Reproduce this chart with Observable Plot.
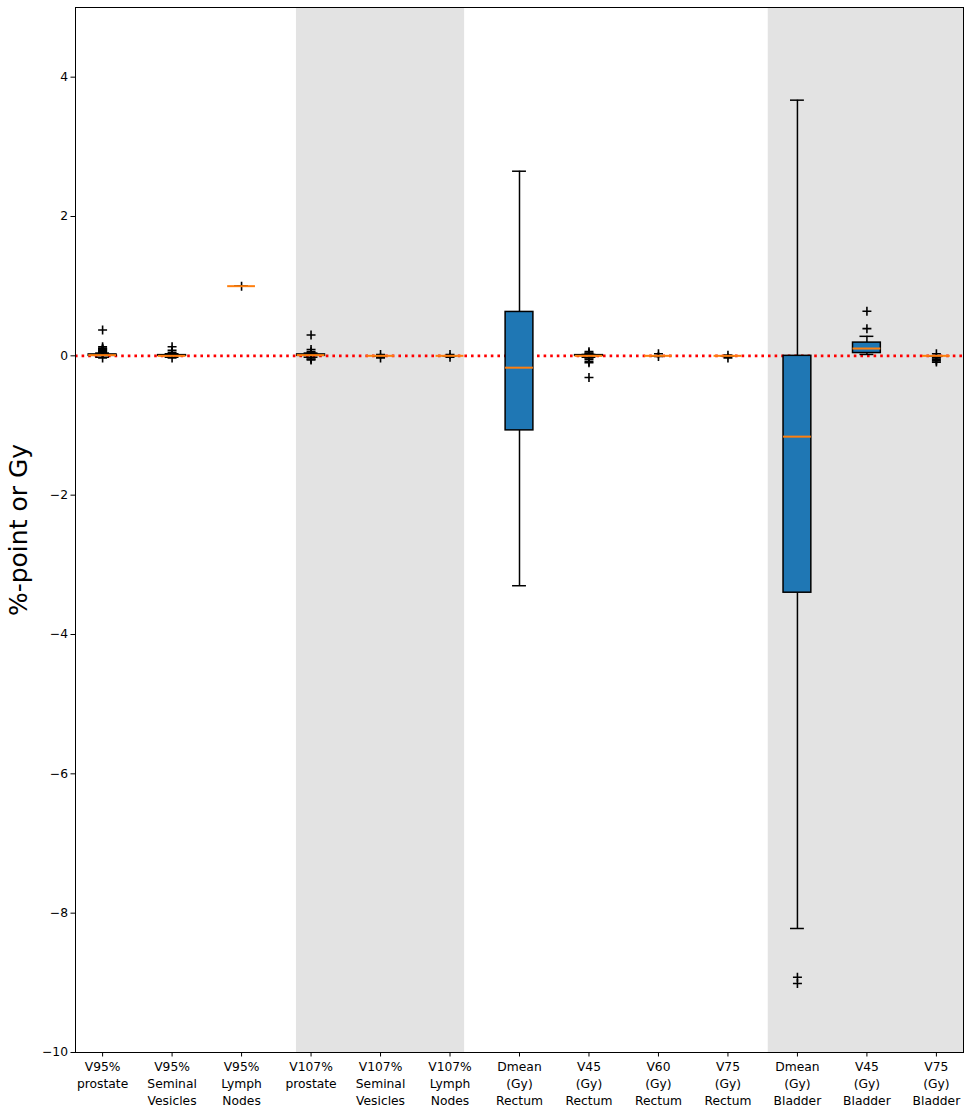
<!DOCTYPE html>
<html>
<head>
<meta charset="utf-8">
<script src="https://cdn.jsdelivr.net/npm/d3@7"></script>
<script src="https://cdn.jsdelivr.net/npm/@observablehq/plot@0.6"></script>
<style>
  html, body { margin: 0; padding: 0; background: #fff; }
  #chart svg { display: block; }
</style>
</head>
<body>
<div id="chart"></div>
<script>
// Categories (tick labels)
const categories = [
  "V95%\nprostate", "V95%\nSeminal\nVesicles", "V95%\nLymph\nNodes",
  "V107%\nprostate", "V107%\nSeminal\nVesicles", "V107%\nLymph\nNodes",
  "Dmean\n(Gy)\nRectum", "V45\n(Gy)\nRectum", "V60\n(Gy)\nRectum", "V75\n(Gy)\nRectum",
  "Dmean\n(Gy)\nBladder", "V45\n(Gy)\nBladder", "V75\n(Gy)\nBladder"
];
// Box statistics per category
const whiskerLow  = [-0.02, -0.02, 1.00, -0.02, 0.00, 0.00, -3.30, -0.02, 0.00, 0.00, -8.22, 0.02, 0.00];
const q1          = [ 0.00,  0.00, 1.00,  0.00, 0.00, 0.00, -1.07,  0.00, 0.00, 0.00, -3.40, 0.04, 0.00];
const median      = [ 0.01,  0.00, 1.00,  0.01, 0.00, 0.00, -0.17,  0.00, 0.00, 0.00, -1.16, 0.105, 0.00];
const q3          = [ 0.02,  0.01, 1.00,  0.02, 0.00, 0.00,  0.63,  0.01, 0.00, 0.00,  0.00, 0.19, 0.00];
const whiskerHigh = [ 0.04,  0.03, 1.00,  0.04, 0.00, 0.00,  2.65,  0.02, 0.00, 0.00,  3.67, 0.28, 0.00];
// Outliers (fliers) per category
const outliers = [
  [0.37, 0.13, 0.11, 0.10, 0.09, 0.08, 0.07, 0.06, 0.05, -0.03],
  [0.13, 0.08, 0.05, -0.03],
  [1.00],
  [0.30, 0.09, 0.06, 0.04, -0.03, -0.05, -0.06],
  [0.02, -0.03],
  [0.02, -0.02],
  [],
  [0.06, 0.04, 0.03, -0.03, -0.05, -0.08, -0.10, -0.31],
  [0.03, -0.01],
  [0.01, -0.03],
  [-8.92, -9.01],
  [0.64, 0.39],
  [0.03, -0.03, -0.05, -0.07, -0.09]
];
// Shaded groups (in category-position units)
const shadeStart = [3.79, 10.58];
const shadeEnd   = [6.21, 13.5];
const yTicks = [-10, -8, -6, -4, -2, 0, 2, 4];
const yLabel = "%-point or Gy";

const rows = categories.map((c, i) => ({
  pos: i + 1, label: c,
  lo: whiskerLow[i], q1: q1[i], med: median[i], q3: q3[i], hi: whiskerHigh[i]
}));
const fliers = outliers.flatMap((arr, i) => arr.map(v => ({pos: i + 1, v})));
const shades = shadeStart.map((s, i) => ({x1: s, x2: shadeEnd[i]}));

const boxHalf = 0.2, capHalf = 0.1;

const chart = Plot.plot({
  width: 964,
  height: 1109,
  marginLeft: 75,
  marginRight: 1,
  marginTop: 7,
  marginBottom: 57,
  style: {fontFamily: "DejaVu Sans", fontSize: "12px", color: "black", background: "white"},
  x: {type: "linear", domain: [0.61, 13.39]},
  y: {domain: [-10, 5]},
  marks: [
    Plot.rect(shades, {x1: "x1", x2: "x2", fill: "#e3e3e3", clip: true}),
    Plot.ruleY([0], {stroke: "red", strokeWidth: 2.6, strokeDasharray: "2.6,4"}),
    Plot.ruleX(rows, {x: "pos", y1: "lo", y2: "q1", stroke: "black", strokeWidth: 1.5}),
    Plot.ruleX(rows, {x: "pos", y1: "q3", y2: "hi", stroke: "black", strokeWidth: 1.5}),
    Plot.ruleY(rows, {y: "lo", x1: d => d.pos - capHalf, x2: d => d.pos + capHalf, stroke: "black", strokeWidth: 1.5}),
    Plot.ruleY(rows, {y: "hi", x1: d => d.pos - capHalf, x2: d => d.pos + capHalf, stroke: "black", strokeWidth: 1.5}),
    Plot.rect(rows, {x1: d => d.pos - boxHalf, x2: d => d.pos + boxHalf, y1: "q1", y2: "q3",
      fill: "#1f77b4", stroke: "black", strokeWidth: 1.5}),
    Plot.dot(fliers, {x: "pos", y: "v", symbol: "plus", r: 3, stroke: "black", strokeWidth: 1.6}),
    Plot.ruleY(rows, {y: "med", x1: d => d.pos - boxHalf, x2: d => d.pos + boxHalf, stroke: "#ff7f0e", strokeWidth: 2}),
    Plot.frame({stroke: "black", strokeWidth: 1}),
    Plot.axisX({
      ticks: rows.map(d => d.pos),
      tickFormat: p => categories[p - 1],
      tickSize: 4.5,
      tickPadding: 2,
      lineHeight: 1.37,
      label: null,
      fontSize: 12.3
    }),
    Plot.axisY({
      ticks: yTicks,
      tickFormat: d => (d < 0 ? "\u2212" + Math.abs(d) : String(d)),
      tickSize: 4.5,
      tickPadding: 3,
      label: null,
      fontSize: 12.3
    }),
    Plot.text([yLabel], {
      text: d => d, frameAnchor: "left", textAnchor: "middle", dx: -57, rotate: -90,
      fontSize: 25, fill: "black"
    })
  ]
});
document.getElementById("chart").appendChild(chart);
</script>
</body>
</html>
